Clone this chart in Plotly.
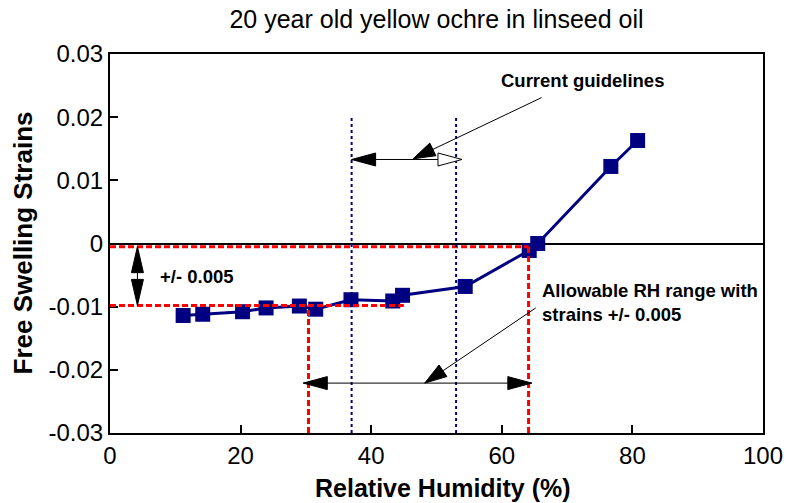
import math
import plotly.graph_objects as go

# ---------------- data ----------------
rh = [11.2, 14.2, 20.3, 23.9, 29.0, 31.5, 36.9, 43.3, 44.8, 54.4, 64.2, 65.5, 76.7, 80.8]
strain = [-0.0114, -0.0112, -0.0108, -0.0102, -0.0099, -0.0104, -0.0089, -0.0091,
          -0.0082, -0.0068, -0.0011, 0.0000, 0.0122, 0.0163]

x_ticks = [0, 20, 40, 60, 80, 100]
x_ticktext = ["0", "20", "40", "60", "80", "100"]
y_ticks = [-0.03, -0.02, -0.01, 0, 0.01, 0.02, 0.03]
y_ticktext = ["-0.03", "-0.02", "-0.01", "0", "0.01", "0.02", "0.03"]

# reference lines
strain_band = [-0.0005, -0.0098]          # red dashed horizontal limits
rh_allowed = [30.4, 64.1]                 # red dashed vertical limits
rh_band_end = [64.1, 45.0]                # where the horizontal red lines end
guideline_rh = [37.0, 53.0]               # blue dotted current guidelines
guideline_top = 0.02

# arrows (x, y in data units)
guide_arrow_y = 0.0133
guide_arrow_x = [37.0, 53.9]
guide_pointer = [(66.1, 0.0231), (46.4, 0.0134)]
allowed_arrow_y = -0.0221
allowed_arrow_x = [29.6, 64.6]
allowed_pointer = [(65.2, -0.0102), (48.2, -0.0221)]
band_arrow_x = 4.2

# labels
title_text = "20 year old yellow ochre in linseed oil"
x_title = "Relative Humidity (%)"
y_title = "Free Swelling Strains"
lbl_guide = ("Current guidelines", 72.4, 0.0258)
lbl_allowed = ("Allowable RH range with<br>strains +/- 0.005", 65.85, -0.0094)
lbl_band = ("+/- 0.005", 7.3, -0.0053)

# ---------------- layout geometry ----------------
W, H = 787, 503
ML, MR, MT, MB = 110, 24, 54, 70
X_RANGE = [0, 100]
Y_RANGE = [-0.03, 0.03]
PX_X = (W - ML - MR) / (X_RANGE[1] - X_RANGE[0])
PX_Y = (H - MT - MB) / (Y_RANGE[1] - Y_RANGE[0])

FONT = "Liberation Sans, Arial, sans-serif"
NAVY = "#000080"
RED = "#ff0000"

shapes = []


def line(x0, y0, x1, y1, color="black", width=1, dash="solid"):
    shapes.append(dict(type="line", xref="x", yref="y", x0=x0, y0=y0, x1=x1, y1=y1,
                       line=dict(color=color, width=width, dash=dash), layer="above"))


def head(tip, tail, length=24, half=6.5, fill="black"):
    dx = (tip[0] - tail[0]) * PX_X
    dy = (tip[1] - tail[1]) * PX_Y
    n = math.hypot(dx, dy)
    ux, uy = dx / n, dy / n
    bx, by = -length * ux, -length * uy
    px, py = -uy, ux
    p1 = (bx + half * px, by + half * py)
    p2 = (bx - half * px, by - half * py)
    path = "M0,0 L{:.2f},{:.2f} L{:.2f},{:.2f} Z".format(p1[0], p1[1], p2[0], p2[1])
    shapes.append(dict(type="path", xref="x", yref="y", xsizemode="pixel", ysizemode="pixel",
                       xanchor=tip[0], yanchor=tip[1], path=path, fillcolor=fill,
                       line=dict(color="black", width=1), layer="above"))


# red dashed limits
line(0, strain_band[0], rh_band_end[0], strain_band[0], RED, 3, "6px,3px")
line(0, strain_band[1], rh_band_end[1], strain_band[1], RED, 3, "6px,3px")
line(rh_allowed[0], Y_RANGE[0], rh_allowed[0], strain_band[1], RED, 3, "6px,3px")
line(rh_allowed[1], Y_RANGE[0], rh_allowed[1], strain_band[0], RED, 3, "6px,3px")
# blue dotted guidelines
for g in guideline_rh:
    line(g, Y_RANGE[0], g, guideline_top, NAVY, 2, "dot")

# guideline double arrow (left filled, right open)
line(guide_arrow_x[0], guide_arrow_y, guide_arrow_x[1], guide_arrow_y)
head((guide_arrow_x[0], guide_arrow_y), (guide_arrow_x[1], guide_arrow_y))
head((guide_arrow_x[1], guide_arrow_y), (guide_arrow_x[0], guide_arrow_y), fill="white")
# pointer to guideline arrow
line(*guide_pointer[0], *guide_pointer[1])
head(guide_pointer[1], guide_pointer[0], length=22, half=7)

# allowed range double arrow
line(allowed_arrow_x[0], allowed_arrow_y, allowed_arrow_x[1], allowed_arrow_y)
head((allowed_arrow_x[0], allowed_arrow_y), (allowed_arrow_x[1], allowed_arrow_y))
head((allowed_arrow_x[1], allowed_arrow_y), (allowed_arrow_x[0], allowed_arrow_y))
line(*allowed_pointer[0], *allowed_pointer[1])
head(allowed_pointer[1], allowed_pointer[0], length=22, half=7)

# vertical +/- 0.005 double arrow
line(band_arrow_x, strain_band[0], band_arrow_x, strain_band[1])
head((band_arrow_x, strain_band[0]), (band_arrow_x, strain_band[1]), length=26, half=6)
head((band_arrow_x, strain_band[1]), (band_arrow_x, strain_band[0]), length=26, half=6)

fig = go.Figure()
fig.add_trace(go.Scatter(
    x=rh, y=strain, mode="lines+markers",
    line=dict(color=NAVY, width=3),
    marker=dict(symbol="square", size=15, color=NAVY),
    showlegend=False, cliponaxis=False,
))

annotations = []
for txt, ax_, ay_, anchor in [(lbl_guide[0], lbl_guide[1], lbl_guide[2], "center"),
                               (lbl_allowed[0], lbl_allowed[1], lbl_allowed[2], "left"),
                               (lbl_band[0], lbl_band[1], lbl_band[2], "left")]:
    annotations.append(dict(text="<b>" + txt.replace("<br>", "</b><br><b>") + "</b>",
                            x=ax_, y=ay_, xref="x", yref="y", showarrow=False,
                            xanchor=anchor, yanchor="middle", align="left",
                            font=dict(family=FONT, size=18.5, color="black")))

# axis titles
annotations.append(dict(text="<b>" + x_title + "</b>", xref="paper", yref="paper",
                        x=0.5, y=0, xanchor="center", yanchor="middle",
                        xshift=6, yshift=-55, showarrow=False,
                        font=dict(family=FONT, size=25, color="black")))
annotations.append(dict(text="<b>" + y_title + "</b>", xref="paper", yref="paper",
                        x=0, y=0.5, xanchor="center", yanchor="middle", textangle=-90,
                        xshift=-88, showarrow=False,
                        font=dict(family=FONT, size=26, color="black")))

fig.update_layout(
    width=W, height=H,
    margin=dict(l=ML, r=MR, t=MT, b=MB),
    paper_bgcolor="white", plot_bgcolor="white",
    font=dict(family=FONT, color="black"),
    title=dict(text=title_text, x=0.5, xref="paper", xanchor="center",
               y=1 - 19 / H, yanchor="middle", yref="container",
               font=dict(family=FONT, size=25, color="black")),
    shapes=shapes,
    annotations=annotations,
    xaxis=dict(range=X_RANGE, tickvals=x_ticks, ticktext=x_ticktext,
               ticks="inside", ticklen=8, tickwidth=2, tickcolor="black",
               showline=True, linewidth=2, linecolor="black", mirror=True,
               showgrid=False, zeroline=False, automargin=False,
               tickfont=dict(family=FONT, size=24)),
    yaxis=dict(range=Y_RANGE, tickvals=y_ticks, ticktext=y_ticktext,
               ticks="inside", ticklen=8, tickwidth=2, tickcolor="black",
               showline=True, linewidth=2, linecolor="black", mirror=True,
               showgrid=False, zeroline=True, zerolinecolor="black", zerolinewidth=2,
               automargin=False, tickfont=dict(family=FONT, size=24)),
)

# remove the browser's default 8px page margin so the figure fills the window exactly
fig.write_html("out.html",
               config={"displayModeBar": False, "staticPlot": True},
               post_script="document.body.style.margin='0';document.body.style.overflow='hidden';")
